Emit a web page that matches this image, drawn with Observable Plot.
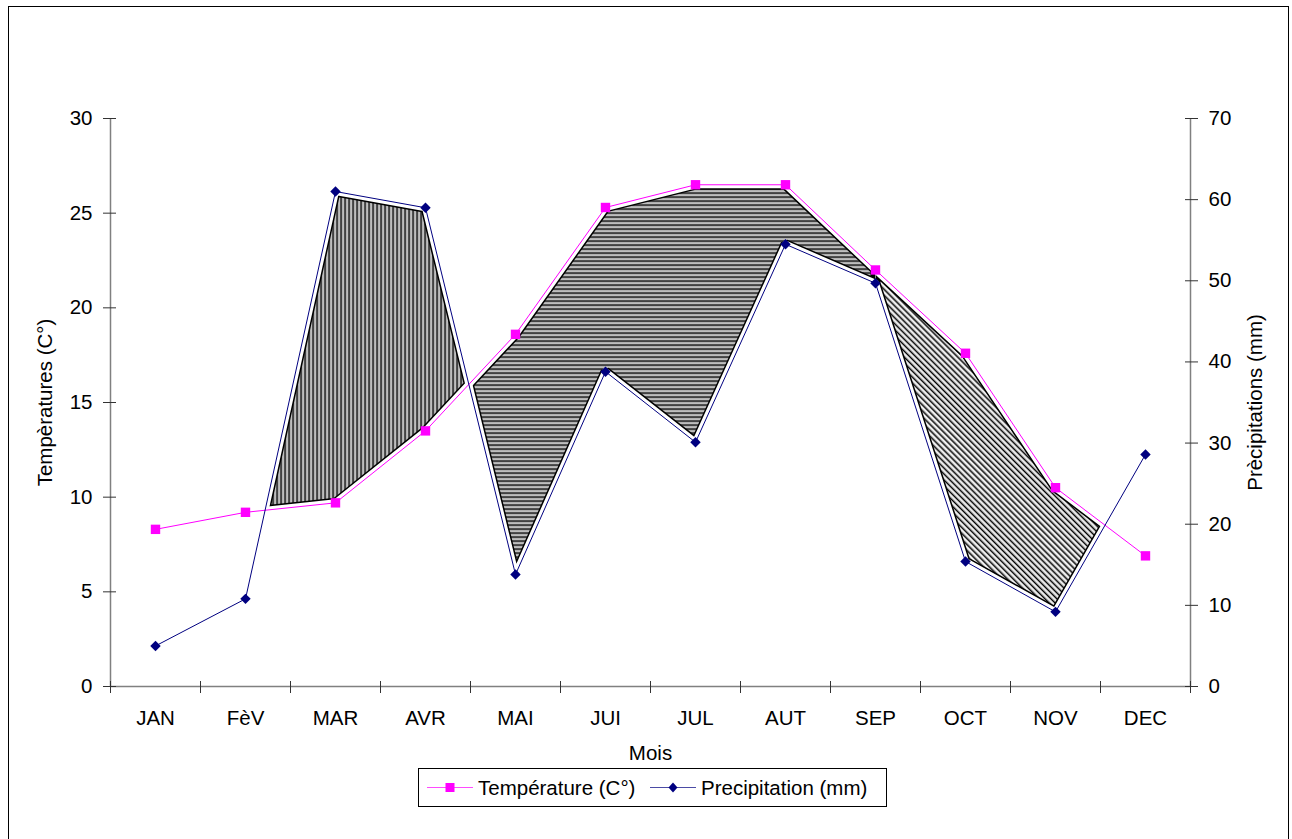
<!DOCTYPE html>
<html>
<head>
<meta charset="utf-8">
<script src="https://cdn.jsdelivr.net/npm/d3@7"></script>
<script src="https://cdn.jsdelivr.net/npm/@observablehq/plot@0.6"></script>
<style>
  body { margin: 0; background: #fff; font-family: "Liberation Sans", Arial, sans-serif; }
  #wrap { position: relative; width: 1292px; height: 839px; overflow: hidden; background: #fff; }
  #frame { position: absolute; left: 8px; top: 6px; width: 1281px; height: 900px; border: 1.5px solid #000; box-sizing: border-box; }
  #chart { position: absolute; left: 0; top: 0; }
  #legend { position: absolute; left: 418px; top: 768px; width: 469px; height: 39px; border: 1px solid #000; box-sizing: border-box;
            font-size: 20.5px; color: #000; background: #fff; }
  #legend .item { position: absolute; top: 0; height: 37px; display: flex; align-items: center; white-space: nowrap; }
  #legend svg { display: block; margin-right: 5px; }
</style>
</head>
<body>
<div id="wrap">
  <div id="frame"></div>
  <div id="chart"></div>
  <div id="legend"></div>
</div>
<script>
// ---- Data ----
const months = ["JAN", "FèV", "MAR", "AVR", "MAI", "JUI", "JUL", "AUT", "SEP", "OCT", "NOV", "DEC"];
const temperature = [8.3, 9.2, 9.7, 13.5, 18.6, 25.3, 26.5, 26.5, 22.0, 17.6, 10.5, 6.9];
const precipitation = [5.0, 10.8, 61.0, 59.0, 13.8, 38.8, 30.1, 54.5, 49.7, 15.4, 9.2, 28.6];
const tempTicks = [0, 5, 10, 15, 20, 25, 30];
const precipTicks = [0, 10, 20, 30, 40, 50, 60, 70];
const tempMax = 30, precipMax = 70;
const seriesNames = ["Température (C°)", "Precipitation (mm)"];
const axisTitles = { left: "Tempèratures (C°)", right: "Prècipitations (mm)", bottom: "Mois" };

// ---- Derived ----
const k = tempMax / precipMax;           // precipitation -> temperature-axis units
const pS = precipitation.map(p => p * k);
const rows = months.map((m, i) => ({ i, month: m, t: temperature[i], p: pS[i] }));

function pt(i) { return { x: i, t: temperature[i], p: pS[i] }; }
function cross(i) {
  const d0 = pS[i] - temperature[i], d1 = pS[i + 1] - temperature[i + 1];
  const f = d0 / (d0 - d1);
  return { x: i + f, t: temperature[i] + f * (temperature[i + 1] - temperature[i]), p: pS[i] + f * (pS[i + 1] - pS[i]) };
}
// shaded regions between the two curves, as closed polygons
const regions = [
  { from: cross(1), to: cross(3), pattern: "pat-v", key: "#010101" },
  { from: cross(3), to: pt(8), pattern: "pat-h", key: "#020202" },
  { from: pt(8), to: cross(10), pattern: "pat-d", key: "#030303" }
].map(r => {
  const inner = rows.filter(d => d.i > r.from.x + 1e-9 && d.i < r.to.x - 1e-9).map(d => pt(d.i));
  const pts = [r.from, ...inner, r.to];
  const poly = [
    ...pts.map(d => ({ x: d.x, y: d.t })),
    ...pts.slice().reverse().map(d => ({ x: d.x, y: d.p })),
    { x: pts[0].x, y: pts[0].t }
  ];
  return { pattern: r.pattern, key: r.key, poly };
});

const MAGENTA = "#FF00FF", NAVY = "#000080", AXIS = "#808080";
const boundaries = d3.range(-0.5, 12, 1);

const marks = [];
regions.forEach(r => {
  marks.push(Plot.line(r.poly, { x: "x", y: "y", fill: "#777777", stroke: r.key, strokeWidth: 10, strokeLinejoin: "miter" }));
});
marks.push(
  // white gaps along curves
  Plot.line(rows, { x: "i", y: "t", stroke: "white", strokeWidth: 7 }),
  Plot.line(rows, { x: "i", y: "p", stroke: "white", strokeWidth: 7 }),
  // axis lines
  Plot.ruleY([0], { stroke: AXIS, strokeWidth: 1.5 }),
  Plot.ruleX([-0.5, 11.5], { stroke: AXIS, strokeWidth: 1.5 }),
  // axes
  Plot.axisY({ anchor: "left", ticks: tempTicks, tickSize: 13, dx: 6, tickPadding: 11, label: null, stroke: "#333" }),
  Plot.axisY({ anchor: "right", ticks: precipTicks.map(p => p * k), tickFormat: v => String(Math.round(v / k)), tickSize: 13, dx: -6, tickPadding: 11, label: null, stroke: "#333" }),
  Plot.axisX({ anchor: "bottom", ticks: boundaries, tickFormat: () => "", tickSize: 12, dy: -5, label: null, stroke: "#333" }),
  Plot.axisX({ anchor: "bottom", ticks: d3.range(months.length), tickFormat: i => months[i], tickSize: 0, tickPadding: 24, label: null }),
  // axis titles
  Plot.text([axisTitles.left], { frameAnchor: "left", rotate: -90, dx: -65, text: d => d, fontSize: 20.5, textAnchor: "middle", lineAnchor: "middle" }),
  Plot.text([axisTitles.right], { frameAnchor: "right", rotate: -90, dx: 65, text: d => d, fontSize: 20.5, textAnchor: "middle", lineAnchor: "middle" }),
  Plot.text([axisTitles.bottom], { frameAnchor: "bottom", dy: 67, text: d => d, fontSize: 20.5, textAnchor: "middle", lineAnchor: "middle" }),
  // series
  Plot.line(rows, { x: "i", y: "t", stroke: MAGENTA, strokeWidth: 1 }),
  Plot.line(rows, { x: "i", y: "p", stroke: NAVY, strokeWidth: 1 }),
  Plot.dot(rows, { x: "i", y: "t", symbol: "square", r: 5.3, fill: MAGENTA }),
  Plot.dot(rows, { x: "i", y: "p", symbol: "diamond2", r: 4.7, fill: NAVY })
);

const chart = Plot.plot({
  width: 1292,
  height: 760,
  marginLeft: 110,
  marginRight: 102,
  marginTop: 118,
  marginBottom: 74,
  style: { fontSize: "20.5px", fontFamily: "'Liberation Sans', Arial, sans-serif", color: "black", background: "transparent", overflow: "visible" },
  x: { type: "linear", domain: [-0.5, 11.5], label: null },
  y: { domain: [0, tempMax], label: null },
  marks
});

// patterns + clipping of shaded regions
const svgNS = "http://www.w3.org/2000/svg";
const defs = document.createElementNS(svgNS, "defs");
defs.innerHTML = `
  <pattern id="pat-v" patternUnits="userSpaceOnUse" width="4" height="4">
    <rect width="4" height="4" fill="#ffffff"/>
    <rect x="0" width="1.5" height="4" fill="#000"/>
    <rect x="1.5" width="0.8" height="4" fill="#888"/>
    <rect x="3.2" width="0.8" height="4" fill="#888"/>
  </pattern>
  <pattern id="pat-h" patternUnits="userSpaceOnUse" width="4" height="4">
    <rect width="4" height="4" fill="#ffffff"/>
    <rect y="0" width="4" height="1.5" fill="#000"/>
    <rect y="1.5" width="4" height="0.8" fill="#888"/>
    <rect y="3.2" width="4" height="0.8" fill="#888"/>
  </pattern>
  <pattern id="pat-d" patternUnits="userSpaceOnUse" width="4.2" height="4.2" patternTransform="rotate(-45)">
    <rect width="4.2" height="4.2" fill="#ffffff"/>
    <rect x="0" width="1.3" height="4.2" fill="#000"/>
    <rect x="1.3" width="0.7" height="4.2" fill="#999"/>
    <rect x="3.5" width="0.7" height="4.2" fill="#999"/>
  </pattern>`;
chart.insertBefore(defs, chart.firstChild);
regions.forEach((r, j) => {
  const g = chart.querySelector(`g[stroke="${r.key}"]`);
  if (!g) return;
  g.setAttribute("fill", `url(#${r.pattern})`);
  g.setAttribute("stroke", "#000000");
  g.querySelectorAll("path").forEach((p, n) => {
    const id = `clip-region-${j}-${n}`;
    const cp = document.createElementNS(svgNS, "clipPath");
    cp.setAttribute("id", id);
    const c = document.createElementNS(svgNS, "path");
    c.setAttribute("d", p.getAttribute("d"));
    const tr = p.getAttribute("transform");
    if (tr) c.setAttribute("transform", tr);
    cp.appendChild(c);
    defs.appendChild(cp);
    p.setAttribute("fill", `url(#${r.pattern})`);
    const wrapG = document.createElementNS(svgNS, "g");
    wrapG.setAttribute("clip-path", `url(#${id})`);
    p.parentNode.insertBefore(wrapG, p);
    wrapG.appendChild(p);
  });
});
document.getElementById("chart").appendChild(chart);

// legend
const legend = document.getElementById("legend");
const items = [
  { name: seriesNames[0], color: MAGENTA, sym: "square", left: 8 },
  { name: seriesNames[1], color: NAVY, sym: "diamond", left: 231 }
];
items.forEach(it => {
  const div = document.createElement("div");
  div.className = "item";
  div.style.left = it.left + "px";
  const marker = it.sym === "square"
    ? `<rect x="18.5" y="2" width="9" height="9" fill="${it.color}"/>`
    : `<path d="M23 1.5 L27.5 6.5 L23 11.5 L18.5 6.5 Z" fill="${it.color}"/>`;
  div.innerHTML = `<svg width="46" height="13"><line x1="0" x2="46" y1="6.5" y2="6.5" stroke="${it.color}" stroke-width="1.2" opacity="0.7"/>${marker}</svg><span>${it.name}</span>`;
  legend.appendChild(div);
});
</script>
</body>
</html>
